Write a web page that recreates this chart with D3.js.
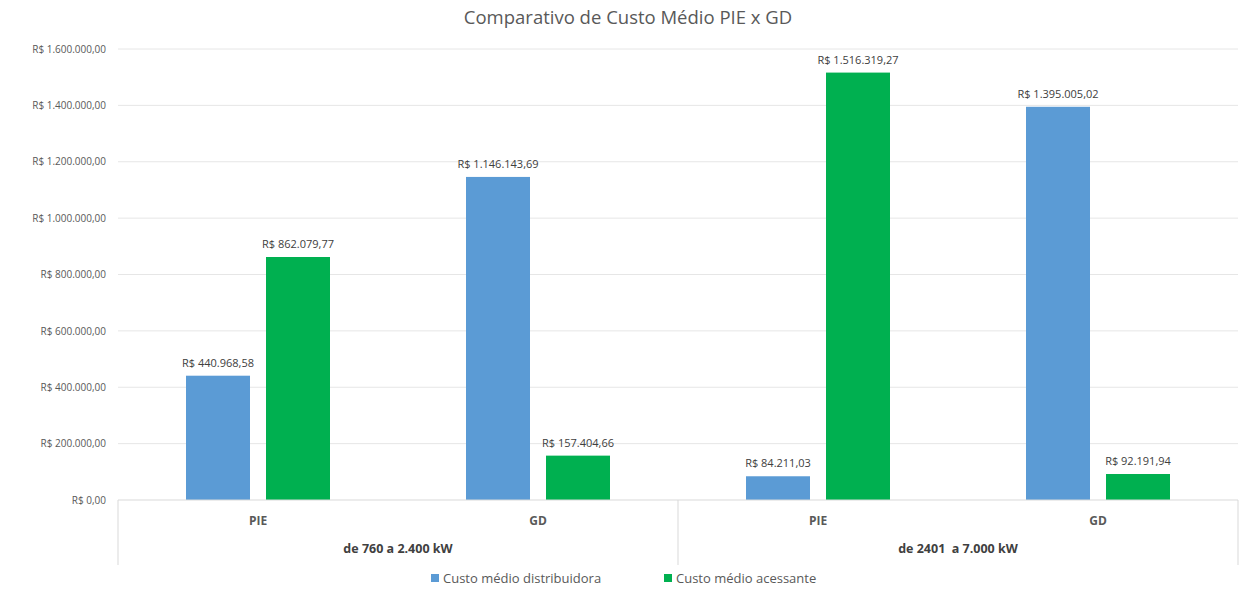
<!DOCTYPE html>
<html>
<head>
<meta charset="utf-8">
<script src="https://cdn.jsdelivr.net/npm/d3@7"></script>
<style>
  html, body { margin: 0; padding: 0; background: #fff; }
  svg { display: block; font-family: "Open Sans", "Liberation Sans", sans-serif; }
</style>
</head>
<body>
<svg id="chart" width="1244" height="592"></svg>
<script>
const groups = ["de 760 a 2.400 kW", "de 2401  a 7.000 kW"];
const categories = ["PIE", "GD"];
const seriesNames = ["Custo médio distribuidora", "Custo médio acessante"];
const distribuidora = [440968.58, 1146143.69, 84211.03, 1395005.02];
const acessante = [862079.77, 157404.66, 1516319.27, 92191.94];
const yTicks = [0, 200000, 400000, 600000, 800000, 1000000, 1200000, 1400000, 1600000];
const colors = ["#5B9BD5", "#00B050"];

const locale = d3.formatLocale({decimal: ",", thousands: ".", grouping: [3], currency: ["R$ ", ""]});
const fmt = locale.format("$,.2f");

const rows = [];
groups.forEach((g, gi) => categories.forEach((c, ci) => {
  const i = gi * categories.length + ci;
  rows.push({key: g + "|" + c, group: g, cat: c, values: [distribuidora[i], acessante[i]]});
}));

const svg = d3.select("#chart");
const mLeft = 118, mRight = 1238, mTop = 49, mBottom = 500;

const x0 = d3.scaleBand().domain(rows.map(d => d.key)).range([mLeft, mRight]).paddingInner(0).paddingOuter(0);
const x1 = d3.scaleBand().domain(seriesNames).range([0, x0.bandwidth()]).paddingInner(0.2).paddingOuter(0.85);
const y = d3.scaleLinear().domain([0, 1600000]).range([mBottom, mTop]);

// title
svg.append("text").attr("x", 628).attr("y", 24).attr("text-anchor", "middle")
  .attr("font-size", 18.5).attr("fill", "#595959").text("Comparativo de Custo Médio PIE x GD");

// gridlines
svg.append("g").selectAll("line").data(yTicks.filter(t => t > 0)).join("line")
  .attr("x1", mLeft).attr("x2", mRight).attr("y1", d => y(d)).attr("y2", d => y(d))
  .attr("stroke", "#e6e6e6").attr("stroke-width", 1);

// y axis labels
const yAxis = d3.axisLeft(y).tickValues(yTicks).tickFormat(fmt).tickSize(0).tickPadding(12);
const ya = svg.append("g").attr("transform", `translate(${mLeft},0)`).call(yAxis);
ya.select(".domain").remove();
ya.selectAll("text").attr("font-size", 10).attr("fill", "#595959").attr("font-family", "Open Sans, Liberation Sans, sans-serif");

// bars
const bars = svg.append("g").selectAll("g").data(rows).join("g")
  .attr("transform", d => `translate(${x0(d.key)},0)`);
bars.selectAll("rect").data(d => d.values.map((v, i) => ({name: seriesNames[i], v, i}))).join("rect")
  .attr("x", d => x1(d.name)).attr("width", x1.bandwidth())
  .attr("y", d => y(d.v)).attr("height", d => y(0) - y(d.v))
  .attr("fill", d => colors[d.i]);
bars.selectAll("text.val").data(d => d.values.map((v, i) => ({name: seriesNames[i], v, i}))).join("text")
  .attr("class", "val")
  .attr("x", d => x1(d.name) + x1.bandwidth() / 2).attr("y", d => y(d.v) - 9)
  .attr("text-anchor", "middle").attr("font-size", 11).attr("fill", "#404040")
  .text(d => fmt(d.v));

// x axis lines
svg.append("line").attr("x1", mLeft).attr("x2", mRight).attr("y1", mBottom).attr("y2", mBottom)
  .attr("stroke", "#d9d9d9");
const groupEdges = [mLeft, x0(rows[categories.length].key), mRight];
svg.append("g").selectAll("line").data(groupEdges).join("line")
  .attr("x1", d => d).attr("x2", d => d).attr("y1", mBottom).attr("y2", 565)
  .attr("stroke", "#d9d9d9");

// category labels
svg.append("g").selectAll("text").data(rows).join("text")
  .attr("x", d => x0(d.key) + x0.bandwidth() / 2).attr("y", 525)
  .attr("text-anchor", "middle").attr("font-size", 12).attr("font-weight", "bold").attr("fill", "#595959")
  .text(d => d.cat);

// group labels
svg.append("g").selectAll("text").data(groups).join("text")
  .attr("x", (g, gi) => (groupEdges[gi] + groupEdges[gi + 1]) / 2).attr("y", 553)
  .attr("text-anchor", "middle").attr("font-size", 12.5).attr("font-weight", "bold").attr("fill", "#404040")
  .attr("xml:space", "preserve")
  .text(d => d);

// legend
const legendX = [431, 664];
const lg = svg.append("g").selectAll("g").data(seriesNames).join("g")
  .attr("transform", (d, i) => `translate(${legendX[i]},578)`);
lg.append("rect").attr("x", 0).attr("y", -4).attr("width", 8).attr("height", 8).attr("fill", (d, i) => colors[i]);
lg.append("text").attr("x", 12).attr("y", 4.5).attr("font-size", 13).attr("fill", "#595959").text(d => d);
</script>
</body>
</html>
